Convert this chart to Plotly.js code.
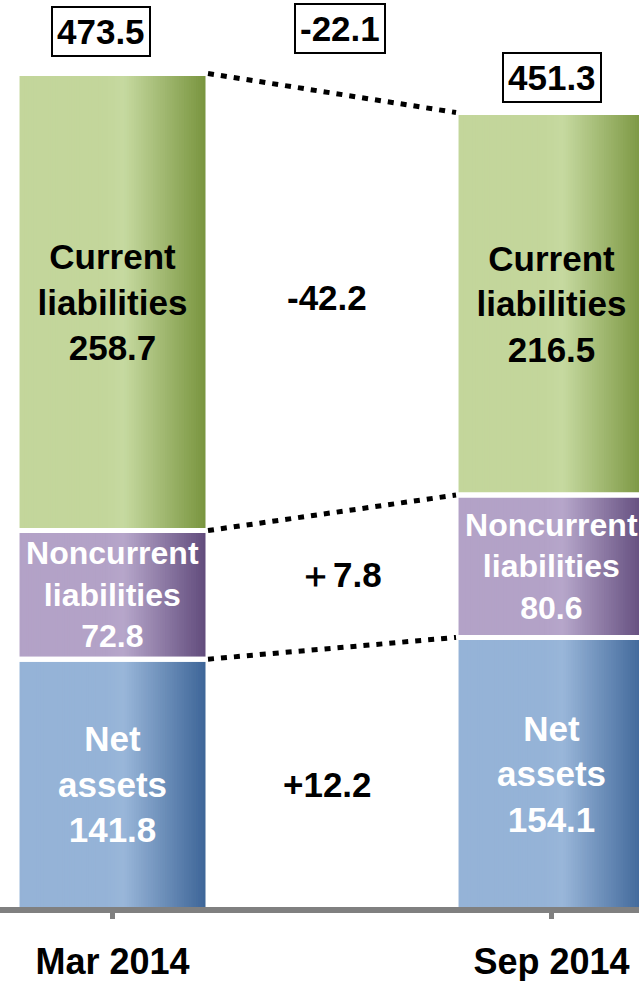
<!DOCTYPE html>
<html>
<head>
<meta charset="utf-8">
<script src="https://cdn.plot.ly/plotly-3.0.1.min.js"></script>
<style>html,body{margin:0;padding:0;background:#fff;}#chart{width:639px;height:981px;}</style>
</head>
<body>
<div id="chart"></div>
<script>
// ---- data ----
const categories = ['Mar 2014', 'Sep 2014'];
const netAssets = [141.8, 154.1];
const noncurrentLiabilities = [72.8, 80.6];
const currentLiabilities = [258.7, 216.5];
const totals = [473.5, 451.3];
const totalChangeLabel = '-22.1';
const segmentChangeLabels = ['+12.2', '\uFF0B7.8', '-42.2'];
const seriesNames = ['Net<br>assets', 'Noncurrent<br>liabilities', 'Current<br>liabilities'];

// ---- styling ----
const FONT = 'Liberation Sans, Arial, Helvetica, sans-serif';
const series = [netAssets, noncurrentLiabilities, currentLiabilities];
const gradients = [
  ['#95b3d7', '#99b6d9', '#3b6396'],
  ['#b3a2c7', '#b6a6ca', '#5f497a'],
  ['#c3d69b', '#c6d9a0', '#77933c']
];
const textColors = ['#ffffff', '#ffffff', '#000000'];
const textSizes = [35, 32, 35];
const W = 0.435;      // bar width in axis units
const N = 80;         // strips per bar for the gradient

function hex2rgb(h){ return [1,3,5].map(i => parseInt(h.substr(i,2),16)); }
function mix(a,b,t){ const A=hex2rgb(a),B=hex2rgb(b); return 'rgb('+A.map((v,i)=>Math.round(v+(B[i]-v)*t)).join(',')+')'; }
function grad(stops, t){
  const [c1, cl, c2] = stops;
  if (t < 0.46) return mix(c1, c1, 0);
  if (t < 0.56) return mix(c1, cl, (t-0.46)/0.10);
  return mix(cl, c2, (t-0.56)/0.44);
}

// cumulative bases
const bases = series.map((s, k) => s.map((v, j) => series.slice(0, k).reduce((acc, ss) => acc + ss[j], 0)));
const tops = series.map((s, k) => s.map((v, j) => bases[k][j] + v));

const traces = [];
const stripW = W / N;
series.forEach((s, k) => {
  for (let i = 0; i < N; i++) {
    traces.push({
      type: 'bar', x: [0, 1], y: s, base: bases[k],
      width: i < N - 1 ? stripW * 2.5 : stripW,
      offset: -W / 2 + i * stripW,
      marker: { color: grad(gradients[k], (i + 0.5) / N), line: { width: 0 } },
      hoverinfo: 'skip', showlegend: false
    });
  }
});
series.forEach((s, k) => {
  traces.push({
    type: 'bar', x: [0, 1], y: s, base: bases[k], width: W,
    marker: { color: 'rgba(0,0,0,0)', line: { color: '#ffffff', width: 5 } },
    text: s.map(v => seriesNames[k] + '<br>' + v.toFixed(1)),
    textposition: 'inside', insidetextanchor: 'middle', textangle: 0,
    constraintext: 'none',
    textfont: { family: FONT, size: textSizes[k], color: textColors[k], weight: 'bold' },
    hoverinfo: 'skip', showlegend: false
  });
});

// dotted connector lines between bar tops
const shapes = tops.map(t => ({
  type: 'line', xref: 'x', yref: 'y',
  x0: W / 2, x1: 1 - W / 2, y0: t[0], y1: t[1],
  line: { color: '#000000', width: 5, dash: '6px,7px' }
}));

// change labels placed between the bars
const midY = series.map((s, k) => ((bases[k][0] + s[0] / 2) + (bases[k][1] + s[1] / 2)) / 2);
const yShifts = [-6, 6, 5];
const xShifts = [-5, 8, -5];
const annotations = segmentChangeLabels.map((lab, k) => ({
  x: 0.5, y: midY[k], xref: 'x', yref: 'y', text: lab, showarrow: false,
  xanchor: 'center', yanchor: 'middle',
  xshift: xShifts[k], yshift: yShifts[k],
  font: { family: FONT, size: 35, color: '#000', weight: 'bold' }
}));
const boxFont = { family: FONT, size: 35, color: '#000', weight: 'bold' };
const boxStyle = { showarrow: false, font: boxFont, xanchor: 'center', yanchor: 'middle',
  bordercolor: '#000', borderwidth: 2, borderpad: 4, bgcolor: '#fff' };
annotations.push(Object.assign({
  x: 0, y: 1 - 31 / 907, xref: 'x', yref: 'paper', xshift: -12,
  text: totals[0].toFixed(1) }, boxStyle));
annotations.push(Object.assign({
  x: 1, y: 1 - 77 / 907, xref: 'x', yref: 'paper',
  text: totals[1].toFixed(1) }, boxStyle));
annotations.push(Object.assign({
  x: 0.518, y: 1 - 28 / 907, xref: 'x', yref: 'paper',
  text: totalChangeLabel }, boxStyle));

const layout = {
  width: 639, height: 981,
  margin: { l: 0, r: 0, t: 0, b: 74 },
  paper_bgcolor: '#fff', plot_bgcolor: '#fff',
  barmode: 'overlay', showlegend: false,
  xaxis: {
    range: [-0.2563, 1.1993], tickmode: 'array', tickvals: [0, 1], ticktext: categories,
    showline: true, linecolor: '#808080', linewidth: 6,
    ticks: 'outside', ticklen: 6, tickwidth: 5, tickcolor: '#808080',
    ticklabelstandoff: 12,
    tickfont: { family: FONT, size: 36, color: '#000', weight: 'bold' },
    showgrid: false, zeroline: false, fixedrange: true
  },
  yaxis: { range: [1.5, 514.9], visible: false, showgrid: false, zeroline: false, fixedrange: true },
  shapes: shapes,
  annotations: annotations
};

Plotly.newPlot('chart', traces, layout, { staticPlot: true, displayModeBar: false });
</script>
</body>
</html>
